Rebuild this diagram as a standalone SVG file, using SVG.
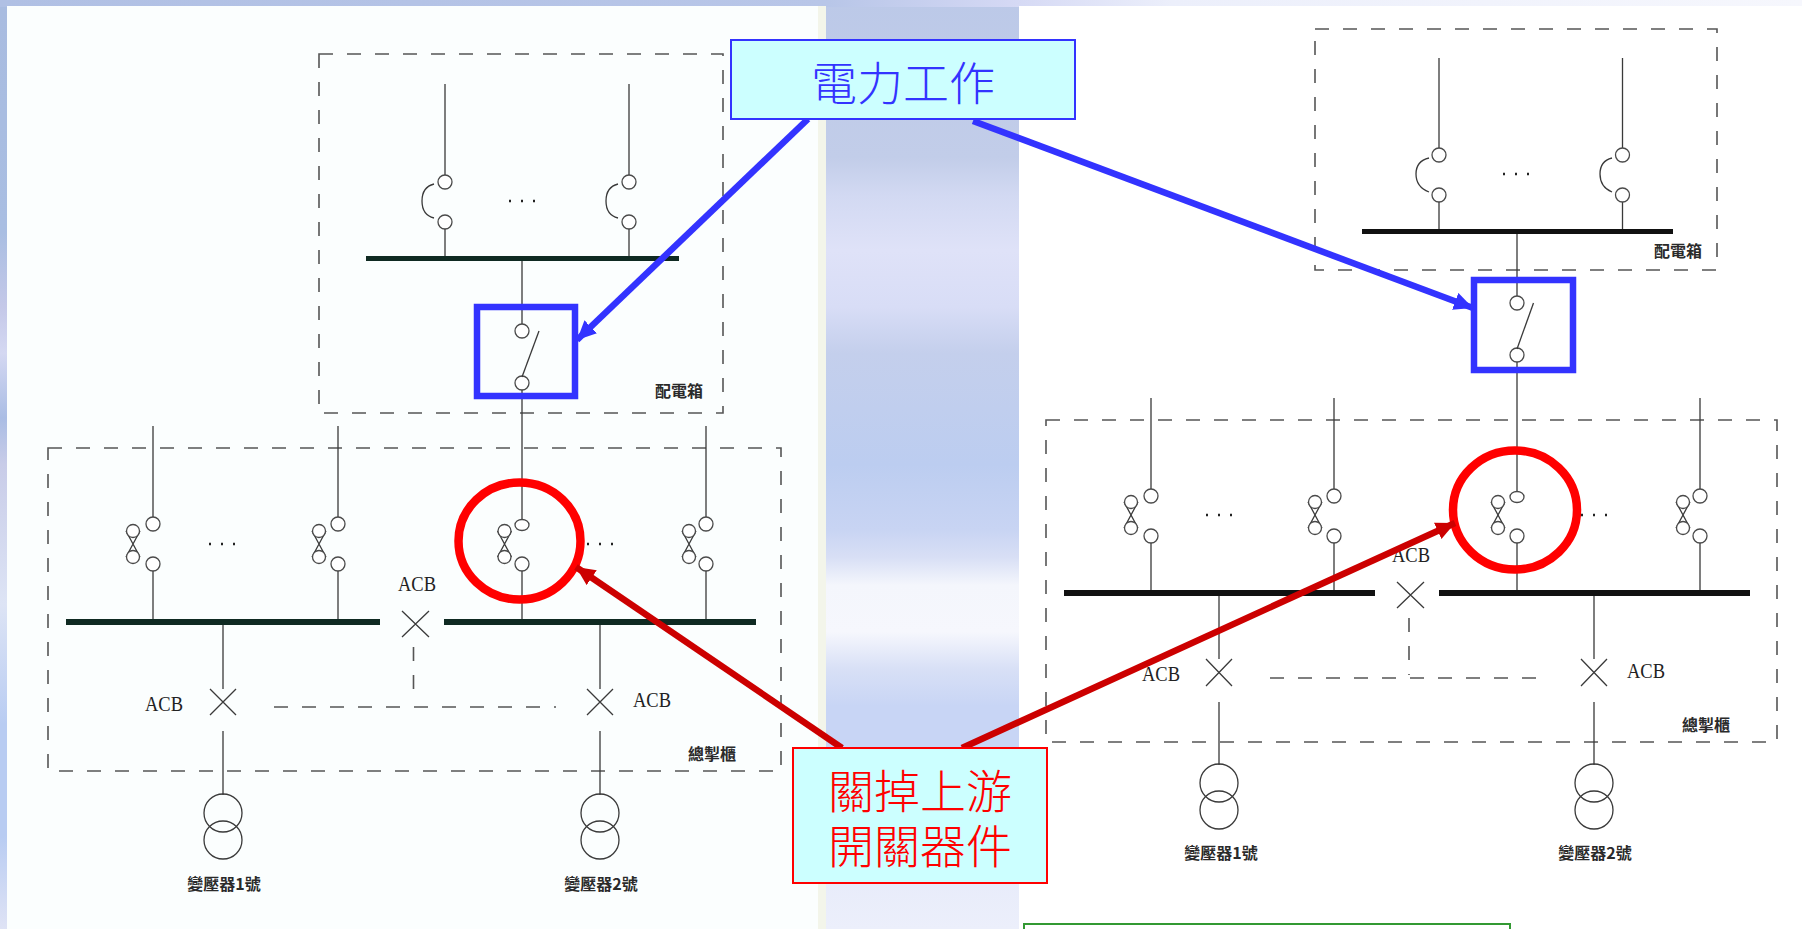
<svg xmlns="http://www.w3.org/2000/svg" width="1802" height="929" viewBox="0 0 1802 929">
<style>
.w{fill:none;stroke:#3a3a3a;stroke-width:1.3}
.c{fill:#fff;stroke:#4a4a4a;stroke-width:1.3}
.d{fill:none;stroke:#555;stroke-width:1.6;stroke-dasharray:14 14}
.b{fill:#0f2a22}
.t{font-family:"Noto Sans CJK TC","Noto Sans CJK SC",sans-serif;fill:#2a2a2a;font-size:16px;font-weight:700;text-anchor:middle;dominant-baseline:central}
.a{font-family:"Liberation Serif",serif;fill:#222;font-size:22px;text-anchor:middle;dominant-baseline:central}
.x{font-family:"Noto Sans CJK TC","Noto Sans CJK SC",sans-serif;font-size:46px;font-weight:300;text-anchor:middle;dominant-baseline:central}
</style>
<defs>
<linearGradient id="bg" x1="0" y1="0" x2="0" y2="1">
<stop offset="0" stop-color="#bcc9e8"/><stop offset=".17" stop-color="#c2cde9"/><stop offset=".21" stop-color="#d2d9f2"/><stop offset=".27" stop-color="#dfe2f8"/><stop offset=".33" stop-color="#d8ddf6"/><stop offset=".38" stop-color="#c4cfec"/><stop offset=".5" stop-color="#bccdf0"/><stop offset=".57" stop-color="#c8d4f3"/><stop offset=".6" stop-color="#d8dff5"/><stop offset=".63" stop-color="#f4f6fc"/><stop offset=".68" stop-color="#f6f7fd"/><stop offset=".72" stop-color="#d8e0f6"/><stop offset=".76" stop-color="#c8d5f5"/><stop offset=".9" stop-color="#c8d5f5"/><stop offset=".95" stop-color="#e8ecfa"/><stop offset="1" stop-color="#eceffb"/>
</linearGradient>
<linearGradient id="lm" x1="0" y1="0" x2="0" y2="1">
<stop offset="0" stop-color="#a9bce0"/><stop offset=".25" stop-color="#a9bee2"/><stop offset=".33" stop-color="#c4c8e8"/><stop offset=".38" stop-color="#d4d8f2"/><stop offset=".45" stop-color="#aabde4"/><stop offset=".5" stop-color="#c8cce8"/><stop offset=".65" stop-color="#dde4f5"/><stop offset=".78" stop-color="#b8ccf2"/><stop offset=".9" stop-color="#b8ccf2"/><stop offset="1" stop-color="#dfe3f5"/>
</linearGradient>
<linearGradient id="tb" x1="0" y1="0" x2="1" y2="0">
<stop offset="0" stop-color="#b0c0e4"/><stop offset=".46" stop-color="#b8c6e8"/><stop offset=".56" stop-color="#d4d8f4"/><stop offset=".65" stop-color="#eceffb"/><stop offset="1" stop-color="#f6f7fd"/>
</linearGradient>
<marker id="ab" markerUnits="userSpaceOnUse" markerWidth="22" markerHeight="22" refX="19" refY="9" orient="auto"><path d="M0 0L19 9L0 18Z" fill="#3333ff"/></marker>
<marker id="ar" markerUnits="userSpaceOnUse" markerWidth="22" markerHeight="22" refX="19" refY="9" orient="auto"><path d="M0 0L19 9L0 18Z" fill="#cc0000"/></marker>
<g id="draw"><path class="w" d="M-20 7L-6 33M-6 7L-20 33"/><ellipse class="c" cx="-13" cy="7" rx="6.5" ry="6.5"/><ellipse class="c" cx="-13" cy="33" rx="6.5" ry="6.5"/></g>
</defs>
<rect id="background" width="1802" height="929" fill="url(#bg)"/>
<rect x="0" y="0" width="7" height="929" fill="url(#lm)"/>
<rect x="0" y="0" width="1802" height="7" fill="url(#tb)"/>
<rect x="7" y="6" width="811" height="923" fill="#fbfefe"/>
<rect x="818" y="6" width="8" height="923" fill="#f3f5ea"/>
<rect x="1019" y="6" width="783" height="923" fill="#fff"/>

<g id="panel-left">
<g id="box-dist-l"><rect class="d" x="319" y="54" width="404" height="359"/><text class="t" x="679" y="390">配電箱</text></g>
<g id="bus-dist-l"><rect class="b" x="366" y="256" width="313" height="5"/>
<path class="w" d="M445 84V175M445 229V256M629 84V175M629 229V256M522 261V325M522 390V520"/>
<circle class="c" cx="445" cy="182" r="7"/><circle class="c" cx="445" cy="222" r="7"/><circle class="c" cx="629" cy="182" r="7"/><circle class="c" cx="629" cy="222" r="7"/>
<path class="w" d="M434 184Q422 187 422 201T434 218M618 184Q606 187 606 201T618 218"/>
<path d="M509 201h2M521 201h2M533 201h2" stroke="#222" stroke-width="2.4"/></g>
<g id="switch-l"><circle class="c" cx="522" cy="331" r="7"/><circle class="c" cx="522" cy="383" r="7"/><path class="w" d="M539 331L522 377"/></g>
<g id="box-main-l"><rect class="d" x="48" y="448" width="733" height="323"/><text class="t" x="712" y="753">總掣櫃</text></g>
<g id="bus-main-l"><rect class="b" x="66" y="619" width="314" height="6"/><rect class="b" x="444" y="619" width="312" height="6"/>
<path class="w" d="M153 426V517M153 571V619M338 426V517M338 571V619M522 571V619M706 426V517M706 571V619"/>
<circle class="c" cx="153" cy="524" r="7"/><circle class="c" cx="153" cy="564" r="7"/><circle class="c" cx="338" cy="524" r="7"/><circle class="c" cx="338" cy="564" r="7"/><ellipse class="c" cx="522" cy="525" rx="7" ry="5.5"/><circle class="c" cx="522" cy="564" r="7"/><circle class="c" cx="706" cy="524" r="7"/><circle class="c" cx="706" cy="564" r="7"/>
<use href="#draw" x="146" y="524"/><use href="#draw" x="332" y="524"/><use href="#draw" x="517.5" y="524"/><use href="#draw" x="702" y="524"/>
<path d="M209 544h2M221 544h2M233 544h2M587 544h2M599 544h2M611 544h2" stroke="#222" stroke-width="2.4"/></g>
<g id="acb-l"><path class="w" d="M402 611L429 637M429 611L402 637M210 689L236 715M236 689L210 715M587 689L613 715M613 689L587 715"/>
<path class="w" d="M223 625V689M223 731V795M600 625V689M600 731V795"/>
<path class="d" d="M274 707H556M413.5 647V703"/>
<text class="a" x="417" y="583" textLength="38" lengthAdjust="spacingAndGlyphs">ACB</text><text class="a" x="164" y="703" textLength="38" lengthAdjust="spacingAndGlyphs">ACB</text><text class="a" x="652" y="699" textLength="38" lengthAdjust="spacingAndGlyphs">ACB</text></g>
<g id="tr1-l"><circle class="w" cx="223" cy="813" r="19"/><circle class="w" cx="223" cy="840" r="19"/><text class="t" x="224" y="883">變壓器1號</text></g>
<g id="tr2-l"><circle class="w" cx="600" cy="813" r="19"/><circle class="w" cx="600" cy="840" r="19"/><text class="t" x="601" y="883">變壓器2號</text></g>
<rect id="mark-l" x="477" y="307" width="98" height="89" fill="none" stroke="#3333ff" stroke-width="6.5"/>
<ellipse id="ring-l" cx="519.5" cy="541" rx="61" ry="58.5" fill="none" stroke="#ff0000" stroke-width="8.5"/>
</g>

<g id="panel-right">
<g id="box-dist-r"><rect class="d" x="1315" y="29" width="402" height="241"/><text class="t" x="1678" y="250">配電箱</text></g>
<g id="bus-dist-r"><rect class="b" x="1362" y="229" width="311" height="5" style="fill:#111"/>
<path class="w" d="M1439 58V148M1439 202V229M1622.5 58V148M1622.5 202V229M1517 234V296M1517 362V492"/>
<circle class="c" cx="1439" cy="155" r="7"/><circle class="c" cx="1439" cy="195" r="7"/><circle class="c" cx="1622.5" cy="155" r="7"/><circle class="c" cx="1622.5" cy="195" r="7"/>
<path class="w" d="M1429 158Q1416 161 1416 174T1429 192M1612 158Q1600 161 1600 174T1612 192"/>
<path d="M1503 174h2M1515 174h2M1527 174h2" stroke="#222" stroke-width="2.4"/></g>
<g id="switch-r"><circle class="c" cx="1517" cy="303" r="7"/><circle class="c" cx="1517" cy="355" r="7"/><path class="w" d="M1533.5 303L1517 349"/></g>
<g id="box-main-r"><rect class="d" x="1046" y="420" width="731" height="322"/><text class="t" x="1706" y="724">總掣櫃</text></g>
<g id="bus-main-r"><rect class="b" x="1064" y="590" width="311" height="6" style="fill:#111"/><rect class="b" x="1439" y="590" width="311" height="6" style="fill:#111"/>
<path class="w" d="M1151 398V489M1151 543V590M1334 398V489M1334 543V590M1517 543V590M1700 398V489M1700 543V590"/>
<circle class="c" cx="1151" cy="496" r="7"/><circle class="c" cx="1151" cy="536" r="7"/><circle class="c" cx="1334" cy="496" r="7"/><circle class="c" cx="1334" cy="536" r="7"/><ellipse class="c" cx="1517" cy="497" rx="7" ry="5.5"/><circle class="c" cx="1517" cy="536" r="7"/><circle class="c" cx="1700" cy="496" r="7"/><circle class="c" cx="1700" cy="536" r="7"/>
<use href="#draw" x="1144" y="495"/><use href="#draw" x="1328" y="495"/><use href="#draw" x="1511" y="495"/><use href="#draw" x="1696" y="495"/>
<path d="M1206 515h2M1218 515h2M1230 515h2M1581 515h2M1593 515h2M1605 515h2" stroke="#222" stroke-width="2.4"/></g>
<g id="acb-r"><path class="w" d="M1397 582L1424 608M1424 582L1397 608M1206 659L1232 686M1232 659L1206 686M1581 659L1607 686M1607 659L1581 686"/>
<path class="w" d="M1219 596V659M1219 702V765M1594 596V659M1594 702V765"/>
<path class="d" d="M1270 678H1549M1409 618V675"/>
<text class="a" x="1411" y="554" textLength="38" lengthAdjust="spacingAndGlyphs">ACB</text><text class="a" x="1161" y="673" textLength="38" lengthAdjust="spacingAndGlyphs">ACB</text><text class="a" x="1646" y="670" textLength="38" lengthAdjust="spacingAndGlyphs">ACB</text></g>
<g id="tr1-r"><circle class="w" cx="1219" cy="783" r="19"/><circle class="w" cx="1219" cy="810" r="19"/><text class="t" x="1221" y="852">變壓器1號</text></g>
<g id="tr2-r"><circle class="w" cx="1594" cy="783" r="19"/><circle class="w" cx="1594" cy="810" r="19"/><text class="t" x="1595" y="852">變壓器2號</text></g>
<rect id="mark-r" x="1474" y="280" width="99" height="90" fill="none" stroke="#3333ff" stroke-width="6.5"/>
<ellipse id="ring-r" cx="1515" cy="510" rx="62" ry="59.5" fill="none" stroke="#ff0000" stroke-width="8.5"/>
</g>

<g id="connectors" fill="none" stroke-width="6.5">
<path d="M808 119L577 340" stroke="#3333ff" marker-end="url(#ab)"/>
<path d="M973 121L1473 308" stroke="#3333ff" marker-end="url(#ab)"/>
<path d="M842 748L576 567" stroke="#cc0000" marker-end="url(#ar)"/>
<path d="M962 748L1455 523" stroke="#cc0000" marker-end="url(#ar)"/>
</g>
<g id="callout-power"><rect x="731" y="40" width="344" height="79" fill="#ccffff" stroke="#3333ff" stroke-width="2"/><text class="x" x="903" y="80" fill="#3333ff">電力工作</text></g>
<g id="callout-upstream"><rect x="793" y="748" width="254" height="135" fill="#ccffff" stroke="#ff0000" stroke-width="2"/><text class="x" x="920" y="788" fill="#ff0000">關掉上游</text><text class="x" x="920" y="843" fill="#ff0000">開關器件</text></g>
<rect id="green-box" x="1024" y="924" width="486" height="12" fill="#fff" stroke="#339933" stroke-width="2"/>
</svg>
